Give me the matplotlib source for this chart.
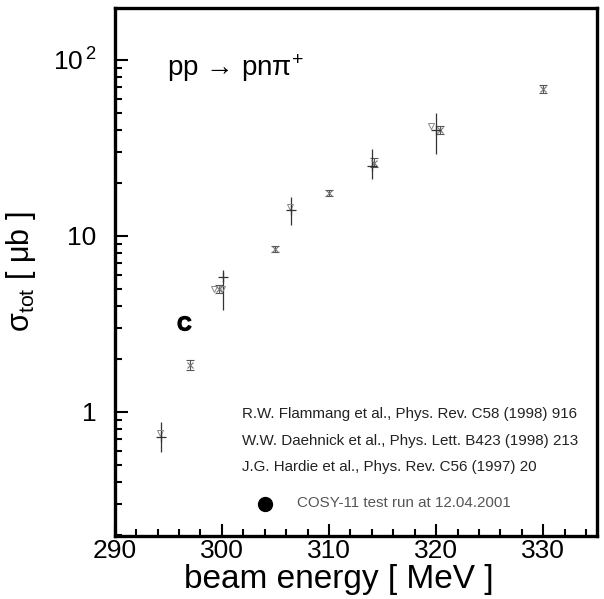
import matplotlib
matplotlib.use("Agg")
import matplotlib.pyplot as plt
from matplotlib.ticker import MultipleLocator, LogLocator, FixedLocator, NullFormatter

plt.rcParams['font.family'] = ['Liberation Sans', 'DejaVu Sans']
plt.rcParams['mathtext.fontset'] = 'custom'
plt.rcParams['mathtext.rm'] = 'Liberation Sans'
plt.rcParams['mathtext.it'] = 'Liberation Sans:italic'
plt.rcParams['mathtext.bf'] = 'Liberation Sans:bold'

# Flammang et al. (x markers, short error bars)
fl_x = [297.0, 299.7, 305.0, 310.0, 314.2, 320.4, 330.0]
fl_y = [1.85, 5.0, 8.4, 17.5, 26.0, 40.0, 68.0]
fl_lo = [0.12, 0.25, 0.3, 0.6, 1.5, 2.0, 3.0]
fl_hi = [0.12, 0.25, 0.3, 0.6, 1.5, 2.0, 4.0]

# Daehnick et al. (+ markers, long error bars)
da_x = [294.3, 300.1, 306.5, 314.0, 320.0]
da_y = [0.72, 5.8, 14.0, 25.0, 40.0]
da_lo = [0.13, 2.0, 2.5, 4.0, 11.0]
da_hi = [0.16, 0.6, 2.5, 6.0, 10.0]

# Hardie et al. (triangles)
ha_x = [294.2, 299.3, 300.0, 306.4, 319.5]
ha_y = [0.76, 5.0, 5.0, 14.5, 42.0]

# COSY-11 test run
co_x = [296.5]
co_y = [3.2]

legend_texts = [
    "R.W. Flammang et al., Phys. Rev. C58 (1998) 916",
    "W.W. Daehnick et al., Phys. Lett. B423 (1998) 213",
    "J.G. Hardie et al., Phys. Rev. C56 (1997) 20",
]
cosy_text = "COSY-11 test run at 12.04.2001"

fig = plt.figure(figsize=(6.04, 5.99), dpi=100)
ax = fig.add_axes([0.190, 0.105, 0.798, 0.882])
ax.set_yscale('log')
ax.set_xlim(290, 335)
ax.set_ylim(0.197, 197)

ax.errorbar(fl_x, fl_y, yerr=[fl_lo, fl_hi], fmt='x', ms=5, mew=0.8,
            color='#777777', ecolor='#555555', elinewidth=0.8, capsize=3, capthick=0.8)
ax.errorbar(da_x, da_y, yerr=[da_lo, da_hi], fmt='+', ms=7, mew=0.9,
            color='#333333', ecolor='#333333', elinewidth=0.9, capsize=0)
ax.plot(ha_x, ha_y, 'v', ms=5, mfc='none', mec='#888888', mew=0.7, ls='none')
ax.plot(co_x, co_y, ls='none', marker=r'$\mathbf{C}$', ms=10, color='black')

# legend (texts without symbols)
for i, t in enumerate(legend_texts):
    ax.text(0.265, 0.231 - i * 0.0505, t, transform=ax.transAxes,
            fontsize=10.9, color='#222222', va='center', ha='left')
ax.plot([304.0], [0.30], 'o', ms=10, color='black')
ax.text(0.378, 0.0635, cosy_text, transform=ax.transAxes,
        fontsize=10.9, color='#555555', va='center', ha='left')

ax.text(0.108, 0.886, "pp → pnπ$^{+}$", transform=ax.transAxes,
        fontsize=20, va='center', ha='left')

for s in ax.spines.values():
    s.set_linewidth(2.4)

ax.xaxis.set_major_locator(MultipleLocator(10))
ax.xaxis.set_minor_locator(MultipleLocator(2))
ax.yaxis.set_major_locator(FixedLocator([1, 10, 100]))
ax.yaxis.set_minor_locator(LogLocator(base=10, subs=range(2, 10)))
ax.yaxis.set_minor_formatter(NullFormatter())
ax.set_yticklabels(['1', '10', r'10$^{\,2}$'])
ax.tick_params(which='both', direction='in', top=False, right=False, width=1.5, labelsize=19)
ax.tick_params(which='major', length=9)
ax.tick_params(which='minor', length=5)
ax.tick_params(axis='y', pad=13)
ax.tick_params(axis='x', pad=2)

ax.set_xlabel("beam energy [ MeV ]", fontsize=24, labelpad=0)
ax.xaxis.set_label_coords(0.465, -0.053)
ax.set_ylabel("σ$_{\\mathrm{tot}}$ [ μb ]", fontsize=22)
ax.yaxis.set_label_coords(-0.16, 0.5)

fig.savefig("out.png", dpi=100)
